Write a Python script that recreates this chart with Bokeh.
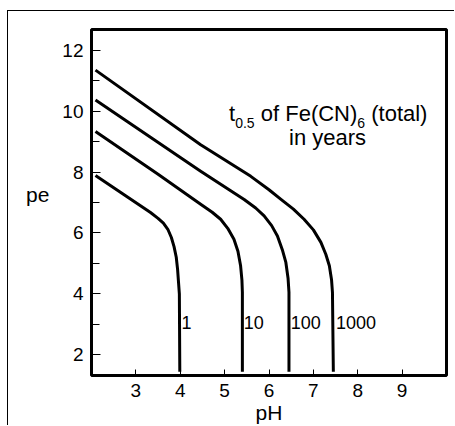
from bokeh.plotting import figure
from bokeh.models import Range1d, SingleIntervalTicker, FixedTicker
from bokeh.core.properties import value
from bokeh.embed import file_html
from bokeh.resources import INLINE

# ---- data ----
ph_1 = [2.09, 3.33, 3.50, 3.62, 3.72, 3.80, 3.86, 3.91, 3.94, 3.96, 3.98, 3.99]
pe_1 = [7.89, 6.67, 6.48, 6.32, 6.12, 5.85, 5.55, 5.20, 4.80, 4.40, 4.00, 1.44]

ph_10 = [2.09, 3.50, 4.46, 4.72, 4.91, 5.07, 5.21, 5.30, 5.36, 5.39, 5.40, 5.40]
pe_10 = [9.33, 7.93, 6.94, 6.68, 6.45, 6.15, 5.79, 5.40, 4.92, 4.45, 4.05, 1.44]

ph_100 = [2.09, 4.46, 5.44, 5.70, 5.89, 6.06, 6.19, 6.30, 6.38, 6.43, 6.45, 6.45]
pe_100 = [10.37, 8.03, 7.10, 6.82, 6.56, 6.24, 5.90, 5.45, 5.03, 4.50, 4.05, 1.44]

ph_1000 = [2.09, 4.46, 5.59, 6.00, 6.27, 6.55, 6.79, 7.00, 7.17, 7.28, 7.36, 7.41, 7.43, 7.45]
pe_1000 = [11.35, 8.90, 7.86, 7.42, 7.10, 6.78, 6.45, 6.10, 5.69, 5.30, 4.92, 4.45, 4.05, 1.44]

curve_labels = ["1", "10", "100", "1000"]
x_ticks = [3, 4, 5, 6, 7, 8, 9]

FONT = value("Liberation Sans")

p = figure(width=447, height=415, output_backend="svg", toolbar_location=None,
           x_range=Range1d(2, 10), y_range=Range1d(1.314, 12.686),
           min_border_left=83, min_border_right=9, min_border_top=18, min_border_bottom=49,
           styles={"margin-left": "7px", "margin-top": "10px",
                   "border-left": "1px solid black", "border-top": "1px solid black"})

p.grid.visible = False
p.outline_line_color = "black"
p.outline_line_width = 3
p.outline_line_alpha = 1.0
p.background_fill_color = "white"
p.border_fill_color = "white"

# axes
p.xaxis.ticker = FixedTicker(ticks=x_ticks)
p.yaxis.ticker = SingleIntervalTicker(interval=2, num_minor_ticks=2)
for ax in (p.xaxis[0], p.yaxis[0]):
    ax.axis_line_color = None
    ax.major_tick_out = 0
    ax.minor_tick_out = 0
    ax.major_tick_line_color = "black"
    ax.minor_tick_line_color = "black"
    ax.major_label_text_font = "Liberation Sans"
    ax.major_label_text_font_size = "19px"
    ax.major_label_text_color = "black"
    ax.axis_label_text_font = "Liberation Sans"
    ax.axis_label_text_font_size = "21px"
    ax.axis_label_text_font_style = "normal"
    ax.axis_label_text_color = "black"

p.xaxis.major_tick_in = 6
p.xaxis.minor_tick_line_color = None
p.xaxis.major_label_standoff = 8
p.xaxis.axis_label = "pH"
p.xaxis.axis_label_standoff = 1

p.yaxis.major_tick_in = 9
p.yaxis.minor_tick_in = 8
p.yaxis.major_label_standoff = 8
p.yaxis.axis_label = "pe\n"
p.yaxis.axis_label_text_line_height = 0.7
p.yaxis.axis_label_orientation = "horizontal"
p.yaxis.axis_label_standoff = 10

# curves
for xs, ys in ((ph_1, pe_1), (ph_10, pe_10), (ph_100, pe_100), (ph_1000, pe_1000)):
    p.line(xs, ys, line_color="black", line_width=3, line_join="round")

# curve labels (placed just right of each vertical branch)
label_x = [4.03, 5.43, 6.49, 7.51]
p.text(x=label_x, y=[3.05] * 4, text=curve_labels, text_font=FONT,
       text_font_size="18px", text_color="black", text_align="left",
       text_baseline="middle")

# annotation: t_0.5 of Fe(CN)_6 (total) / in years
F, S = 22, 14
sp = 0.278 * F
w_t = 0.278 * F
w_05 = 1.39 * S
w_of = 4.389 * F
w_6 = 0.556 * S
x0, yb1, yb2 = 5.10, 9.92, 9.14
pieces = [("t", 0, F, 0),
          ("0.5", w_t, S, 9),
          ("of Fe(CN)", w_t + w_05 + sp, F, 0),
          ("6", w_t + w_05 + sp + w_of, S, 9),
          ("(total)", w_t + w_05 + sp + w_of + w_6 + sp, F, 0)]
for txt, dx, fs, dy in pieces:
    p.text(x=[x0], y=[yb1], text=[txt], x_offset=dx, y_offset=dy, text_font=FONT,
           text_font_size=f"{fs}px", text_color="black", text_align="left",
           text_baseline="alphabetic")
p.text(x=[7.32], y=[yb2], text=["in years"], text_font=FONT, text_font_size=f"{F}px",
       text_color="black", text_align="center", text_baseline="alphabetic")

open("out.html", "w").write(file_html(p, INLINE))
